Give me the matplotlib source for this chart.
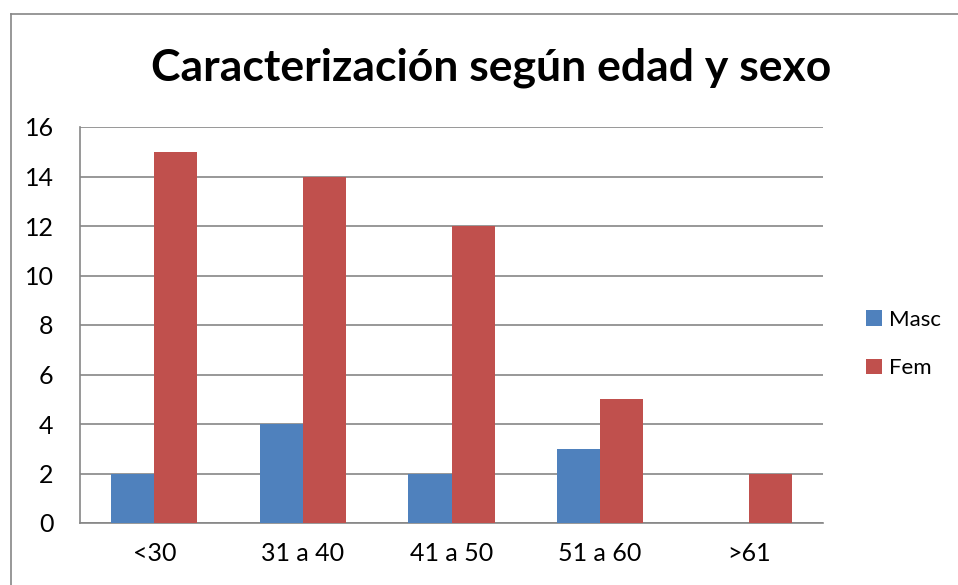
import matplotlib.pyplot as plt
from matplotlib.lines import Line2D

categories = ["<30", "31 a 40", "41 a 50", "51 a 60", ">61"]
masc = [2, 4, 2, 3, 0]
fem = [15, 14, 12, 5, 2]
yticks = [0, 2, 4, 6, 8, 10, 12, 14, 16]

plt.rcParams['font.family'] = ['Lato', 'DejaVu Sans']

fig = plt.figure(figsize=(9.58, 5.85), dpi=100)
ax = fig.add_axes([80 / 958, 1 - 523 / 585, 743 / 958, 396 / 585])

x = list(range(len(categories)))
w = 0.29
ax.bar([i - w / 2 for i in x], masc, width=w, color="#4F81BD", label="Masc", zorder=3)
ax.bar([i + w / 2 for i in x], fem, width=w, color="#C0504D", label="Fem", zorder=3)

ax.set_xlim(-0.5, len(categories) - 0.5)
ax.set_ylim(0, 16)
ax.set_yticks(yticks)
ax.set_xticks(x)
ax.set_xticklabels(categories)
ax.tick_params(axis='both', length=0, labelsize=18, colors='black')
ax.tick_params(axis='y', pad=19)
ax.tick_params(axis='x', pad=14)
ax.grid(axis='y', color="#868686", linewidth=1.2, zorder=0)
for s in ['top', 'right']:
    ax.spines[s].set_visible(False)
for s in ['left', 'bottom']:
    ax.spines[s].set_color("#868686")
    ax.spines[s].set_linewidth(1.2)

fig.text(491 / 958, 1 - 68 / 585, "Caracterización según edad y sexo",
         ha='center', va='center', fontsize=32, fontweight='bold')

ax.legend(loc='center left', bbox_to_anchor=(866 / 958, 1 - 344 / 585),
          bbox_transform=fig.transFigure, frameon=False, fontsize=16, borderpad=0,
          borderaxespad=0, handlelength=0.7, handleheight=0.7, handletextpad=0.35,
          labelspacing=1.3)

# outer chart border (only left and top visible)
fig.add_artist(Line2D([11 / 958, 11 / 958], [0, 1 - 14 / 585], transform=fig.transFigure,
                      color="#868686", linewidth=1.2))
fig.add_artist(Line2D([11 / 958, 1], [1 - 14 / 585, 1 - 14 / 585], transform=fig.transFigure,
                      color="#868686", linewidth=1.2))

fig.savefig("out.png", dpi=100)
